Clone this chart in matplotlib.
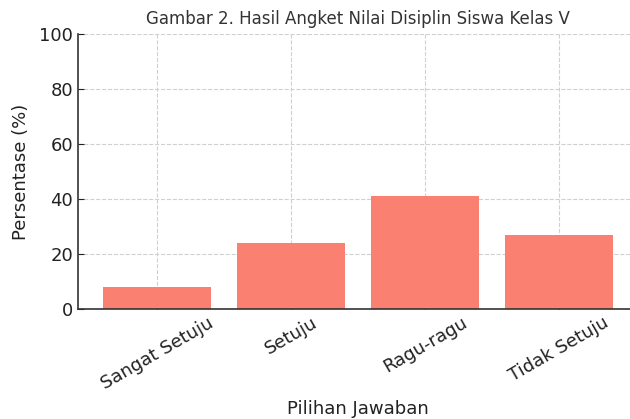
import matplotlib
matplotlib.use("Agg")
import matplotlib.pyplot as plt

categories = ["Sangat Setuju", "Setuju", "Ragu-ragu", "Tidak Setuju"]
percentages = [8, 24, 41, 27]

fig = plt.figure(figsize=(6.3, 4.19), dpi=100)
ax = fig.add_axes([78 / 630, 1 - 309 / 419, 560 / 630, 275 / 419])

ax.bar(categories, percentages, width=0.8, color="#FA8072", zorder=2)
ax.set_ylim(0, 100)
ax.grid(True, linestyle="--", color="#d0d0d0", linewidth=0.8, zorder=0)

for side in ["top", "right"]:
    ax.spines[side].set_visible(False)
for side in ["left", "bottom"]:
    ax.spines[side].set_color("#333333")
    ax.spines[side].set_linewidth(1.2)

ax.tick_params(direction="in", length=4, labelsize=13, colors="#222222")
plt.setp(ax.get_xticklabels(), rotation=30, ha="center")

ax.set_title("Gambar 2. Hasil Angket Nilai Disiplin Siswa Kelas V",
             fontsize=12, color="#333333", pad=7)
ax.set_xlabel("Pilihan Jawaban", fontsize=13, color="#222222", labelpad=5)
ax.set_ylabel("Persentase (%)", fontsize=13, color="#222222", labelpad=7)

fig.savefig("out.png", dpi=100)
